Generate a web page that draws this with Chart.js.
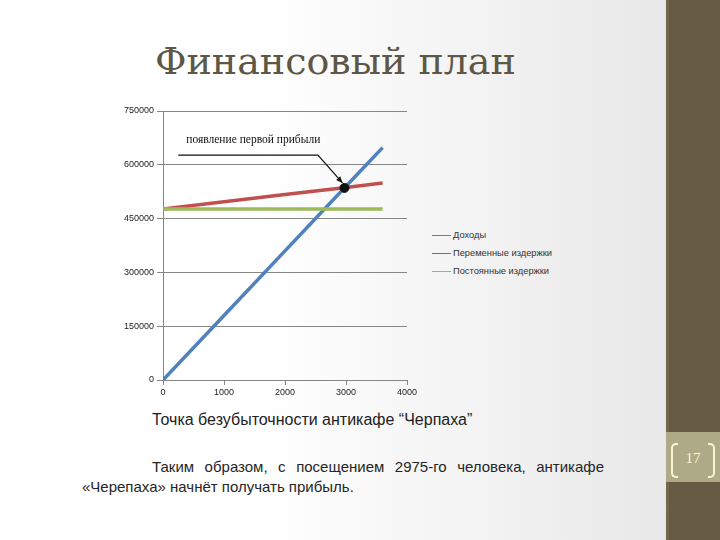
<!DOCTYPE html>
<html>
<head>
<meta charset="utf-8">
<script src="https://cdn.jsdelivr.net/npm/chart.js@4.4.0/dist/chart.umd.min.js"></script>
<style>
  body { margin: 0; }
  #slide {
    position: relative; width: 720px; height: 540px; overflow: hidden;
    background: linear-gradient(to right, #ffffff 0px, #ffffff 260px, #e8e8e8 667px);
    font-family: "Liberation Sans", sans-serif;
  }
  #title {
    position: absolute; left: 155px; top: 39px; white-space: nowrap;
    font-family: "DejaVu Serif", serif; font-size: 38px; color: #5d5745;
  }
  #chartBox { position: absolute; left: 100px; top: 100px; width: 320px; height: 300px; }
  #legend { position: absolute; left: 432px; top: 228px; font-size: 9.3px; color: #333; }
  #legend div { height: 18px; line-height: 14px; white-space: nowrap; }
  #legend span { display: inline-block; width: 19px; height: 0; border-top: 1.5px solid; vertical-align: middle; margin-right: 2px; }
  #caption { position: absolute; left: 152px; top: 411px; font-size: 16px; color: #222; }
  #body {
    position: absolute; left: 82px; top: 457px; width: 522px; font-size: 15px; line-height: 20px;
    color: #262626; text-align: justify; text-indent: 70px;
  }
  #side { position: absolute; left: 666px; top: 0; width: 54px; height: 540px; background: #665c46; border-left: 3px solid #74694d; box-sizing: border-box; }
  #pageBox { position: absolute; left: 666px; top: 432px; width: 54px; height: 50px; background: #aea986; }
  .br { position: absolute; top: 11px; width: 5px; height: 31px; border: 2px solid #fbf3cf; }
  #brL { left: 5px; border-right: none; border-radius: 5px 0 0 5px; }
  #brR { left: 42px; border-left: none; border-radius: 0 5px 5px 0; }
  #pageNum { position: absolute; left: 0; width: 54px; top: 18px; text-align: center; font-family: "Liberation Serif", serif; font-size: 15px; color: #fbf3cf; }
</style>
</head>
<body>
<div id="slide">
  <div id="title">Финансовый план</div>
  <div id="chartBox"><canvas id="plan"></canvas></div>
  <div id="legend"></div>
  <div id="caption">Точка безубыточности антикафе “Черпаха”</div>
  <div id="body">Таким образом, с посещением 2975-го человека, антикафе «Черепаха» начнёт получать прибыль.</div>
  <div id="side"></div>
  <div id="pageBox"><div class="br" id="brL"></div><div class="br" id="brR"></div><div id="pageNum">17</div></div>
</div>
<script>
// data
const visitors = [0, 1000, 2000, 3000, 3600];
const revenue = [0, 180000, 360000, 540000, 648000];
const variableCosts = [477000, 497000, 517000, 537000, 549000];
const fixedCosts = [477000, 477000, 477000, 477000, 477000];
const seriesNames = ['Доходы', 'Переменные издержки', 'Постоянные издержки'];
const seriesColors = ['#4f81bd', '#c0504d', '#9bbb59'];
const breakEvenX = [2975];
const breakEvenY = [535500];
const xTicks = [0, 1000, 2000, 3000, 4000];
const yTicks = [0, 150000, 300000, 450000, 600000, 750000];
const noteText = 'появление первой прибыли';

const toPoints = (xs, ys) => xs.map((x, i) => ({ x: x, y: ys[i] }));

const lineSet = (i, ys) => ({
    label: seriesNames[i],
    data: toPoints(visitors, ys),
    showLine: true,
    borderColor: seriesColors[i],
    borderWidth: 3.5,
    pointRadius: 0,
    order: 3 - i
});

// leader line + label drawn in data units
const notePlugin = {
    id: 'note',
    afterDatasetsDraw(chart) {
        const { ctx, scales: { x, y } } = chart;
        const px = x.getPixelForValue(breakEvenX[0]);
        const py = y.getPixelForValue(breakEvenY[0]);
        const sx = x.getPixelForValue(250), ex = x.getPixelForValue(2540);
        const ly = y.getPixelForValue(627000);
        ctx.save();
        ctx.strokeStyle = '#111';
        ctx.lineWidth = 1.2;
        ctx.beginPath();
        ctx.moveTo(sx, ly);
        ctx.lineTo(ex, ly);
        ctx.lineTo(px - 2, py - 5);
        ctx.stroke();
        // arrow head
        const ang = Math.atan2(py - 5 - ly, px - 2 - ex);
        ctx.fillStyle = '#111';
        ctx.beginPath();
        ctx.moveTo(px - 2, py - 5);
        ctx.lineTo(px - 2 - 7 * Math.cos(ang - 0.4), py - 5 - 7 * Math.sin(ang - 0.4));
        ctx.lineTo(px - 2 - 7 * Math.cos(ang + 0.4), py - 5 - 7 * Math.sin(ang + 0.4));
        ctx.fill();
        ctx.font = '11.5px "Liberation Serif", serif';
        ctx.fillStyle = '#111';
        ctx.textAlign = 'center';
        ctx.textBaseline = 'middle';
        ctx.fillText(noteText, x.getPixelForValue(1480), y.getPixelForValue(670000));
        ctx.restore();
    }
};

const tickFont = { family: '"Liberation Sans", sans-serif', size: 9 };

const chart = new Chart(document.getElementById('plan'), {
    type: 'scatter',
    data: {
        datasets: [
            lineSet(0, revenue),
            lineSet(1, variableCosts),
            lineSet(2, fixedCosts),
            {
                label: 'breakeven',
                data: toPoints(breakEvenX, breakEvenY),
                pointRadius: 4.5,
                pointBackgroundColor: '#111',
                pointBorderColor: '#111',
                order: 0
            }
        ]
    },
    options: {
        responsive: true,
        maintainAspectRatio: false,
        animation: false,
        layout: { padding: { top: 11, right: 13, left: 0, bottom: 0 } },
        plugins: { legend: { display: false }, tooltip: { enabled: false } },
        scales: {
            x: {
                type: 'linear', min: 0, max: 4000,
                afterBuildTicks: s => { s.ticks = xTicks.map(v => ({ value: v })); },
                afterFit: s => { s.height = 20; },
                grid: { drawOnChartArea: false, drawTicks: true, tickLength: 5, color: '#868686' },
                border: { color: '#868686' },
                ticks: { font: tickFont, color: '#222', padding: 2, maxRotation: 0, callback: v => String(v) }
            },
            y: {
                min: 0, max: 750000,
                afterBuildTicks: s => { s.ticks = yTicks.map(v => ({ value: v })); },
                afterFit: s => { s.width = 63; },
                grid: { color: '#868686', tickLength: 6 },
                border: { color: '#868686' },
                ticks: { font: tickFont, color: '#222', padding: 3, callback: v => String(v) }
            }
        }
    },
    plugins: [notePlugin]
});

// legend built from the series
document.getElementById('legend').innerHTML = seriesNames
    .map((n, i) => '<div><span style="border-color:' + seriesColors[i] + '"></span>' + n + '</div>')
    .join('');
</script>
</body>
</html>
